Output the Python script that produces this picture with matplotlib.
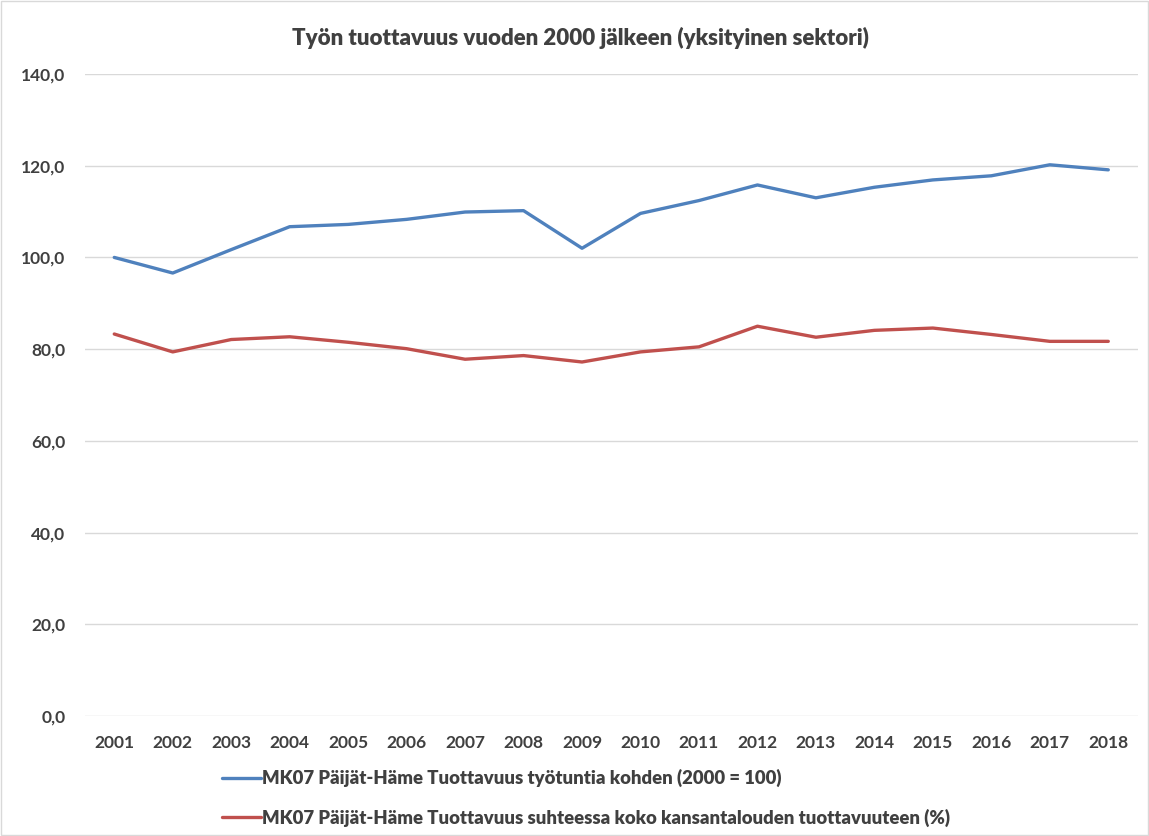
import matplotlib.pyplot as plt
from matplotlib import font_manager

# Data
years = [str(y) for y in range(2001, 2019)]
tuottavuus_tyotunti = [100.0, 96.6, 101.7, 106.7, 107.2, 108.3, 109.9, 110.2, 102.0,
                       109.6, 112.4, 115.8, 113.0, 115.3, 116.9, 117.8, 120.2, 119.1]
tuottavuus_suhteessa = [83.3, 79.4, 82.1, 82.7, 81.5, 80.1, 77.8, 78.6, 77.2,
                        79.4, 80.5, 85.0, 82.6, 84.1, 84.6, 83.2, 81.7, 81.7]
label_blue = 'MK07 Päijät-Häme Tuottavuus työtuntia kohden (2000 = 100)'
label_red = 'MK07 Päijät-Häme Tuottavuus suhteessa koko kansantalouden tuottavuuteen (%)'
title = 'Työn tuottavuus vuoden 2000 jälkeen (yksityinen sektori)'

names = {f.name for f in font_manager.fontManager.ttflist}
fam = 'Liberation Sans Narrow' if 'Liberation Sans Narrow' in names else 'Lato'
plt.rcParams['font.family'] = [fam, 'DejaVu Sans']
plt.rcParams['font.weight'] = 'bold'

text_col = '#404040'
grid_col = '#D9D9D9'

fig = plt.figure(figsize=(11.49, 8.36), dpi=100)
ax = fig.add_axes([0.074, 0.1435, 0.916, 0.768])

x = range(len(years))
ax.plot(x, tuottavuus_tyotunti, color='#4F81BD', lw=2.4, label=label_blue, solid_capstyle='round')
ax.plot(x, tuottavuus_suhteessa, color='#C0504D', lw=2.4, label=label_red, solid_capstyle='round')

ax.set_xlim(-0.5, len(years) - 0.5)
ax.set_ylim(0, 140)
ax.set_yticks(range(0, 141, 20))
ax.set_yticklabels([f'{v},0' for v in range(0, 141, 20)])
ax.set_xticks(list(x))
ax.set_xticklabels(years)
ax.tick_params(length=0, labelsize=12.5, colors=text_col, pad=14)
ax.tick_params(axis='x', pad=14)
for lab in ax.get_xticklabels() + ax.get_yticklabels():
    lab.set_fontweight('bold')
ax.grid(axis='y', color=grid_col, lw=1)
ax.set_axisbelow(True)
for s in ax.spines.values():
    s.set_visible(False)

fig.text(0.505, 0.955, title, ha='center', va='center', fontsize=16,
         fontweight='heavy', color=text_col)

leg = fig.legend(loc='upper left', bbox_to_anchor=(0.193, 0.080), ncol=1, frameon=False,
                 prop={'size': 13.3, 'weight': 'heavy'}, handlelength=2.1,
                 handletextpad=0.1, labelspacing=1.15, borderaxespad=0, borderpad=0)
for t in leg.get_texts():
    t.set_color(text_col)

# light frame around the chart
fig.patches.append(plt.Rectangle((0.001, 0.001), 0.998, 0.998, transform=fig.transFigure,
                                 fill=False, edgecolor=grid_col, lw=1))

fig.savefig('out.png', dpi=100)
